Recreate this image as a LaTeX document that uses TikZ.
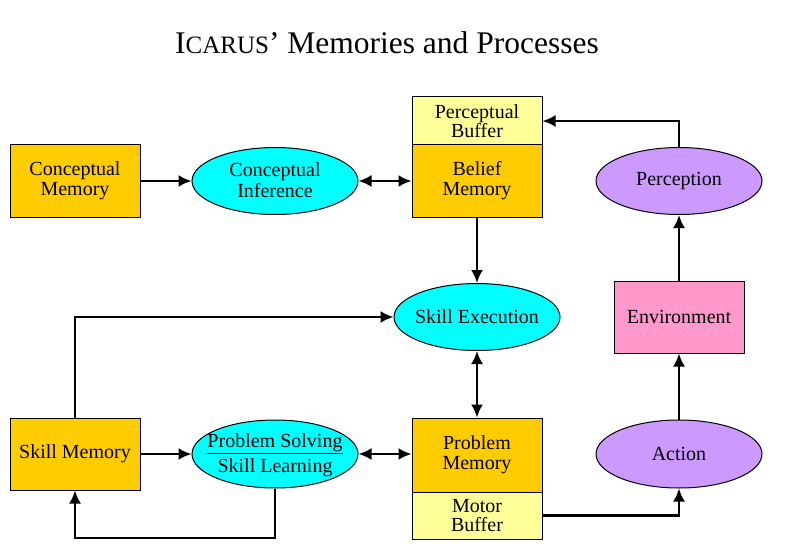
\documentclass[tikz,border=0pt]{standalone}
\usepackage{fontspec}
\setmainfont{Liberation Serif}
\usetikzlibrary{arrows.meta,shapes.geometric}
\definecolor{memorange}{HTML}{FFCC00}
\definecolor{bufyellow}{HTML}{FFFF99}
\definecolor{proccyan}{HTML}{00FFFF}
\definecolor{procpurple}{HTML}{CC99FF}
\definecolor{envpink}{HTML}{FF99CC}
\tikzset{
  membox/.style={draw=black, line width=1pt, fill=memorange, minimum width=130pt, minimum height=73pt, inner sep=0pt, align=center, font=\fontsize{20}{20}\selectfont},
  bufbox/.style={draw=black, line width=1pt, fill=bufyellow, minimum width=130pt, minimum height=48pt, inner sep=0pt, align=center, font=\fontsize{20}{19}\selectfont},
  envbox/.style={draw=black, line width=1pt, fill=envpink, minimum width=130pt, minimum height=72pt, inner sep=0pt, align=center, font=\fontsize{20}{20}\selectfont},
  procell/.style={draw=black, line width=1pt, ellipse, minimum width=166pt, minimum height=67pt, inner sep=0pt},
  proclabel/.style={inner sep=0pt, align=center, font=\fontsize{20}{21}\selectfont},
  link/.style={line width=2.2pt, -{Latex[length=13pt,width=12pt]}},
  dlink/.style={line width=2.2pt, {Latex[length=13pt,width=12pt]}-{Latex[length=13pt,width=12pt]}}
}
\begin{document}
\begin{tikzpicture}[x=1pt,y=-1pt]
\useasboundingbox (0,0) rectangle (787,559);
\node (title) at (387,43) {\fontsize{31.5}{33}\selectfont I{\fontsize{25}{26}\selectfont CARUS}’ Memories and Processes};
% top row
\node[membox] (cmem) at (75,181) {Conceptual\\Memory};
\node[procell, fill=proccyan] (cinf) at (275,181) {};
\node[proclabel] (cinfl) at ([yshift=1pt]cinf.center) {Conceptual\\Inference};
\node[bufbox] (pbuf) at (477,121) {Perceptual\\Buffer};
\node[membox, minimum height=72pt] (bmem) at (477,181) {Belief\\Memory};
\node[procell, fill=procpurple] (perc) at (679,181) {};
\node[proclabel] (percl) at (perc.center) {Perception};
% middle row
\node[procell, fill=proccyan] (sexec) at (477,317) {};
\node[proclabel] (sexecl) at (sexec.center) {Skill Execution};
\node[envbox] (env) at (679,317) {Environment};
% bottom row
\node[membox, minimum height=72pt] (smem) at (75,454) {Skill Memory};
\node[procell, fill=proccyan, minimum height=68pt] (psol) at (275,454) {};
\node[proclabel] (psoll) at ([yshift=-1pt]psol.center) {\underline{Problem Solving}\\[4pt]Skill Learning};
\node[membox, minimum height=74pt] (pmem) at (477,455) {Problem\\Memory};
\node[bufbox, minimum height=47pt] (mbuf) at (477,515.5) {Motor\\Buffer};
\node[procell, fill=procpurple, minimum height=68pt] (act) at (679,454) {};
\node[proclabel] (actl) at (act.center) {Action};
% connectors
\draw[link] (cmem) -- (cinf);
\draw[dlink] (cinf) -- (bmem);
\draw[link] (bmem.south) -- (sexec.north);
\draw[link] (perc.north) |- (pbuf.east);
\draw[link] (env.north) -- (perc.south);
\draw[link] (act.north) -- (env.south);
\draw[link] (mbuf.east) -| (act.south);
\draw[dlink] (sexec.south) -- (pmem.north);
\draw[link] (smem) -- (psol);
\draw[dlink] (psol) -- (pmem.west |- psol);
\draw[link] (smem.north) |- (sexec.west);
\coordinate (loopc) at (275,538);
\draw[link] (psol.south) -- (loopc) -| (smem.south);
\end{tikzpicture}
\end{document}
